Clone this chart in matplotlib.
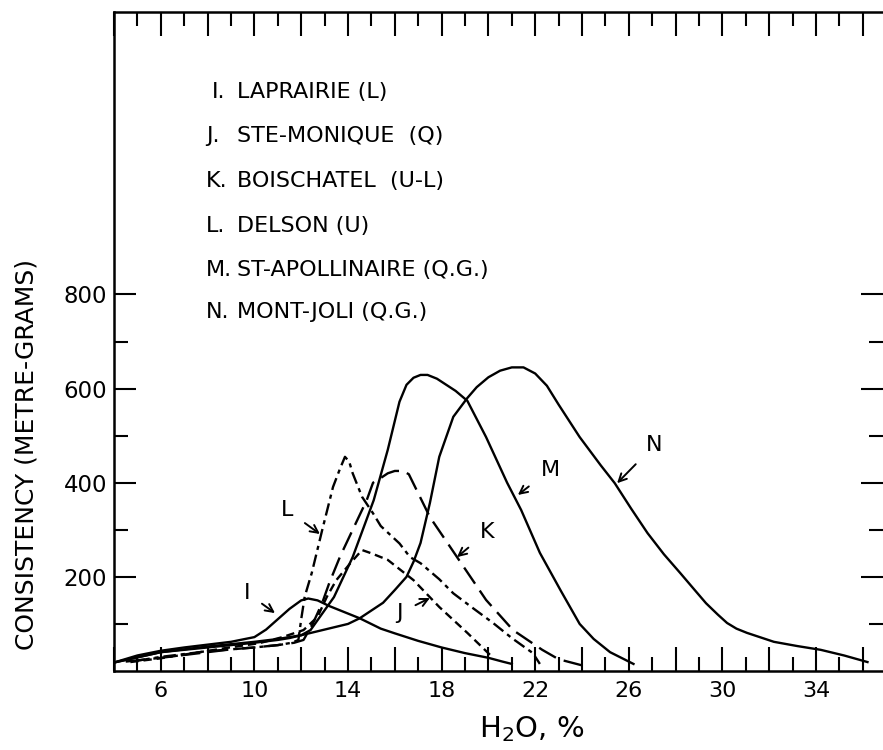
import matplotlib
matplotlib.use('Agg')
import matplotlib.pyplot as plt
from matplotlib.ticker import FixedLocator, FuncFormatter

# Values: H2O (%) against consistency (metre-grams)

# I. Laprairie (solid)
i_x = [4, 5, 6, 7, 8, 9, 10, 10.5, 11, 11.5, 12, 12.3, 12.7, 13.2, 14, 14.5, 15.4, 16, 17, 18, 19, 20, 20.6, 21]
i_y = [18, 33, 43, 50, 56, 62, 72, 88, 110, 132, 150, 154, 150, 138, 122, 112, 90, 80, 64, 50, 38, 28, 20, 15]

# J. Ste-Monique (short dashes)
j_x = [4.7, 6, 7.4, 8.8, 10.2, 11.2, 12.1, 12.7, 13.1, 13.5, 14.1, 14.6, 15.0, 15.7, 16.8, 17.9, 19.1, 20.2]
j_y = [19, 27, 38, 49, 59, 72, 87, 115, 158, 193, 229, 257, 250, 236, 193, 136, 81, 28]

# K. Boischatel (long dashes)
k_x = [4.5, 6, 7, 8, 9, 10, 11, 11.7, 12.1, 12.5, 12.9, 13.2, 13.66, 14.2, 14.8, 15.07, 15.4, 15.7, 16.0, 16.35, 16.6, 17.5,
       18.66, 19.9, 21.05, 22.3, 23.0, 24.0]
k_y = [20, 28, 34, 40, 46, 50, 55, 60, 66, 101, 145, 187, 243, 300, 363, 400, 410, 420, 425, 425, 418, 327,
       242, 151, 87, 45, 25, 12]

# L. Delson (dash-dot)
l_x = [5, 6, 7, 8, 9, 10, 11, 11.6, 11.88, 12.0, 12.15, 12.45, 12.9, 13.36, 13.66, 13.87, 14.05, 14.2, 14.6, 15.07,
       15.4, 16.2, 16.65, 17.1, 17.9, 18.5, 19.3, 20.2, 21.0, 21.9, 22.2]
l_y = [22, 30, 36, 42, 46, 50, 55, 60, 66, 110, 158, 208, 300, 391, 430, 455, 445, 420, 370, 335,
       308, 271, 242, 229, 195, 165, 135, 102, 70, 38, 15]

# M. St-Apollinaire (solid)
m_x = [4, 6, 8, 9, 10, 11, 11.5, 12, 12.4, 12.8, 13.4, 14.2, 15.1, 15.7, 16.2, 16.5, 16.8, 17.1, 17.4, 17.8, 18.2,
       18.6, 19.1, 19.9, 20.8, 21.4, 22.2, 23.1, 23.9, 24.5, 25.2, 26.2]
m_y = [18, 40, 50, 55, 60, 66, 70, 76, 87, 115, 157, 242, 363, 470, 572, 608, 623, 629, 629, 621, 608,
       595, 574, 497, 400, 342, 251, 170, 100, 68, 40, 15]

# N. Mont-Joli (solid)
n_x = [4, 6, 8, 10, 11, 12, 13, 14, 14.5, 15.5, 16.0, 16.5, 16.8, 17.1, 17.5, 17.9, 18.5, 19.1, 19.5, 20.0, 20.5,
       21.0, 21.5, 22.0, 22.5, 23.0, 23.9, 24.8, 25.4, 26.1, 26.8, 27.5, 28.2, 28.8, 29.3, 29.8, 30.2, 30.6, 31.05,
       32.2, 33.2, 34.2, 35.2, 36.2]
n_y = [18, 40, 52, 62, 68, 76, 88, 100, 112, 145, 172, 200, 232, 272, 357, 455, 540, 580, 603, 624, 638,
       645, 645, 632, 606, 566, 497, 437, 399, 345, 293, 248, 208, 173, 144, 120, 102, 90, 81,
       62, 53, 45, 33, 19]

legend_keys = ['I.', 'J.', 'K.', 'L.', 'M.', 'N.']
legend_names = ['LAPRAIRIE (L)', 'STE-MONIQUE  (Q)', 'BOISCHATEL  (U-L)', 'DELSON (U)',
                'ST-APOLLINAIRE (Q.G.)', 'MONT-JOLI (Q.G.)']

# curve letter, label position, arrow tip
callouts = [('I', (9.68, 166), (10.88, 123)),
            ('L', (11.39, 342), (12.8, 291)),
            ('J', (16.2, 123), (17.5, 155)),
            ('K', (19.94, 295), (18.66, 242)),
            ('M', (22.63, 427), (21.26, 374)),
            ('N', (27.1, 480), (25.5, 399))]

x_major = [4, 6, 8, 10, 12, 14, 16, 18, 20, 22, 24, 26, 28, 30, 32, 34, 36]
x_minor = [5, 7, 9, 11, 13, 15, 17, 19, 21, 23, 25, 27, 29, 31, 33, 35]
x_tick_labels = [6, 10, 14, 18, 22, 26, 30, 34]
y_major = [200, 400, 600, 800]
y_minor = [100, 300, 500, 700]

plt.rcParams['lines.scale_dashes'] = False
plt.rcParams['font.family'] = 'DejaVu Sans'

fig = plt.figure(figsize=(8.83, 7.5), dpi=100)
ax = fig.add_axes([114 / 883, 79 / 750, 769 / 883, 659 / 750])

lw = 1.7
ax.plot(i_x, i_y, color='black', lw=lw)
ax.plot(j_x, j_y, color='black', lw=lw, dashes=(6, 3.5))
ax.plot(k_x, k_y, color='black', lw=lw, dashes=(14, 6))
ax.plot(l_x, l_y, color='black', lw=lw, dashes=(9, 3.5, 3, 3.5))
ax.plot(m_x, m_y, color='black', lw=lw)
ax.plot(n_x, n_y, color='black', lw=lw)

ax.set_xlim(4, 4 + 769 / 23.4)
ax.set_ylim(0, 1400)

# tick marks on all sides point inward; only every fourth x value is labelled
ax.xaxis.set_major_locator(FixedLocator(x_major))
ax.xaxis.set_minor_locator(FixedLocator(x_minor))
ax.xaxis.set_major_formatter(FuncFormatter(lambda v, p: str(int(v)) if int(v) in x_tick_labels else ''))
ax.yaxis.set_major_locator(FixedLocator(y_major))
ax.yaxis.set_minor_locator(FixedLocator(y_minor))
ax.tick_params(axis='x', which='both', direction='in', top=True, bottom=True, width=1.5, labelsize=16, pad=7)
ax.tick_params(axis='x', which='major', length=17)
ax.tick_params(axis='x', which='minor', length=10)
ax.tick_params(axis='y', which='both', direction='in', left=True, right=True, width=1.5, labelsize=16.5, pad=5)
ax.tick_params(axis='y', which='major', length=16)
ax.tick_params(axis='y', which='minor', length=10)

for side in ['left', 'bottom', 'top']:
    ax.spines[side].set_linewidth(1.8)
ax.spines['right'].set_visible(False)

ax.set_xlabel('H$_2$O, %', fontsize=21)
ax.xaxis.set_label_coords(0.5436, -0.066)
ax.set_ylabel('CONSISTENCY (METRE-GRAMS)', fontsize=18)
ax.yaxis.set_label_coords(-0.098, 0.329)

# legend block written as plain text lines
key_x = [212, 206, 206, 206, 206, 206]
row_y = [92, 136, 181, 226, 270, 312]
for kx, ry, key, name in zip(key_x, row_y, legend_keys, legend_names):
    fig.text(kx / 883, 1 - ry / 750, key, fontsize=16, va='center', ha='left')
    fig.text(237 / 883, 1 - ry / 750, name, fontsize=16, va='center', ha='left')

for letter, txt_pos, tip in callouts:
    ax.annotate(letter, xy=tip, xytext=txt_pos, fontsize=16, ha='center', va='center',
                arrowprops=dict(arrowstyle='->', color='black', lw=1.4, shrinkA=8, shrinkB=0,
                                mutation_scale=14))

fig.savefig('out.png', dpi=100)
